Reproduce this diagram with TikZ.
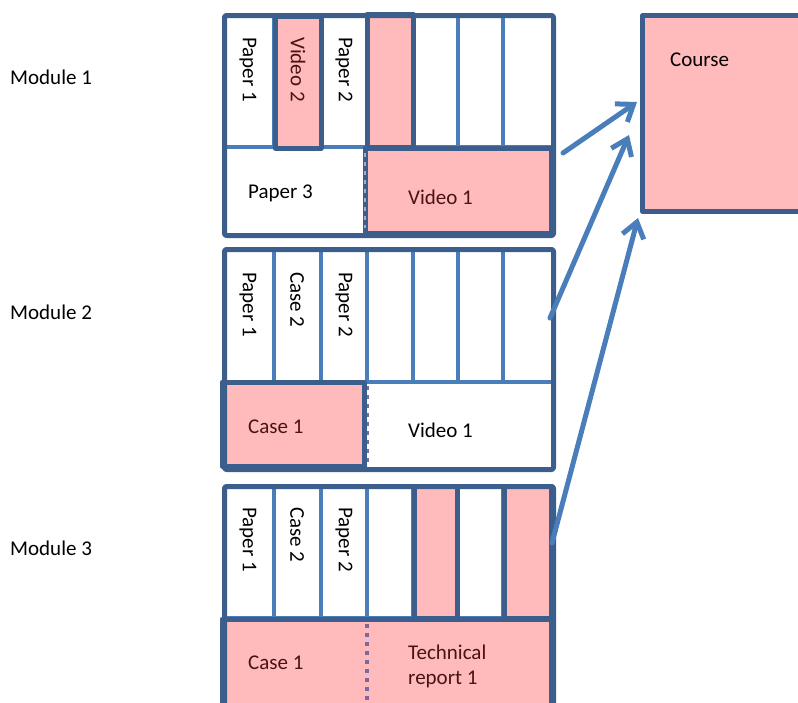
\documentclass[tikz,border=0pt]{standalone}
\usepackage{fontspec}
\setmainfont{Carlito}
\usetikzlibrary{arrows.meta, positioning, calc}
\definecolor{cframe}{HTML}{3B5E8C}
\definecolor{cline}{HTML}{4A7EBB}
\definecolor{cpink}{HTML}{FFBBBB}
\definecolor{cdot}{HTML}{7A6A9C}
\definecolor{cwine}{HTML}{4A1212}
\tikzset{
  every picture/.style={font=\fontsize{21}{25}\selectfont},
  frame/.style={draw=cframe, line width=5pt, line join=round},
  pinkcell/.style={frame, fill=cpink},
  col/.style={draw=cline, line width=3.2pt},
  dotline/.style={draw=cdot, line width=3.5pt, dash pattern=on 4pt off 5pt},
  link/.style={-{Straight Barb[length=15pt, width=22pt]}, draw=cline, line width=5pt, line cap=round},
  lbl/.style={inner sep=0pt, anchor=west},
  vlbl/.style={lbl, rotate=-90},
  onpink/.style={text=cwine},
}

\begin{document}
\begin{tikzpicture}[x=1pt, y=-1pt]
  \useasboundingbox (0,0) rectangle (798,702);
  \clip (0,0) rectangle (798,702);
  % module labels
  \foreach \i/\y in {1/77, 2/312, 3/548} {\node[lbl] (mod\i) at (10,\y) {Module \i};}
  % column lines and dividers
  \foreach \t/\d in {13/147, 247/382, 484/618} {
    \foreach \x in {274,321,367,413,458,503} {\draw[col] (\x,\t) -- (\x,\d);}
    \draw[col] (222,\d) -- (551,\d);
  }
  % module 1
  \filldraw[pinkcell] (275,16) rectangle (321,148);
  \filldraw[pinkcell] (367,14) rectangle (413,147);
  \filldraw[pinkcell] (365,148) rectangle (551,233);
  \draw[dotline, line width=2pt, draw=cdot!60] (365,153) -- (365,228);
  \node[frame, anchor=north west, minimum width=329pt, minimum height=220pt, rounded corners=2pt] (m1) at (222,13) {};
  % module 2
  \filldraw[pinkcell] (222,382) rectangle (364,466);
  \draw[dotline, line width=2pt] (368,386) -- (368,465);
  \node[frame, anchor=north west, minimum width=329pt, minimum height=220pt, rounded corners=2pt] (m2) at (222,247) {};
  % module 3
  \filldraw[pinkcell] (414,486) rectangle (457,618);
  \filldraw[pinkcell] (504,486) rectangle (551,618);
  \filldraw[pinkcell] (222,619) rectangle (551,706);
  \draw[dotline] (367,624) -- (367,702);
  \node[frame, anchor=north west, minimum width=329pt, minimum height=222pt, rounded corners=2pt] (m3) at (222,484) {};
  % course
  \node[pinkcell, anchor=north west, minimum width=200pt, minimum height=196pt] (course) at (640,13) {};
  \node[lbl] (ctext) at (670,60) {Course};
  % texts
  \foreach \m/\t in {1/37, 2/272, 3/507} {
    \node[vlbl] (pa\m) at (248,\t) {Paper 1};
    \node[vlbl] (pb\m) at (344,\t) {Paper 2};
  }
  \node[vlbl, onpink] (v2) at (298,37) {Video 2};
  \node[vlbl] (cb2) at (297,272) {Case 2};
  \node[vlbl] (cb3) at (297,507) {Case 2};
  \node[lbl] (pc1) at (248,193) {Paper 3};
  \node[lbl, onpink] (v1a) at (408,197) {Video 1};
  \node[lbl, onpink] (ca2) at (248,427) {Case 1};
  \node[lbl] (v1b) at (408,430) {Video 1};
  \node[lbl, onpink] (ca3) at (248,663) {Case 1};
  \node[lbl, onpink, align=left] (tr3) at (408,666) {Technical\\report 1};
  % arrows
  \coordinate (a1) at (563,153); \coordinate (b1) at (637,102);
  \coordinate (a2) at (550,318); \coordinate (b2) at (629,135);
  \coordinate (a3) at (552,543); \coordinate (b3) at (638,218);
  \draw[link] (a1) -- (b1);
  \draw[link] (a2) -- (b2);
  \draw[link] (a3) -- (b3);
\end{tikzpicture}
\end{document}
